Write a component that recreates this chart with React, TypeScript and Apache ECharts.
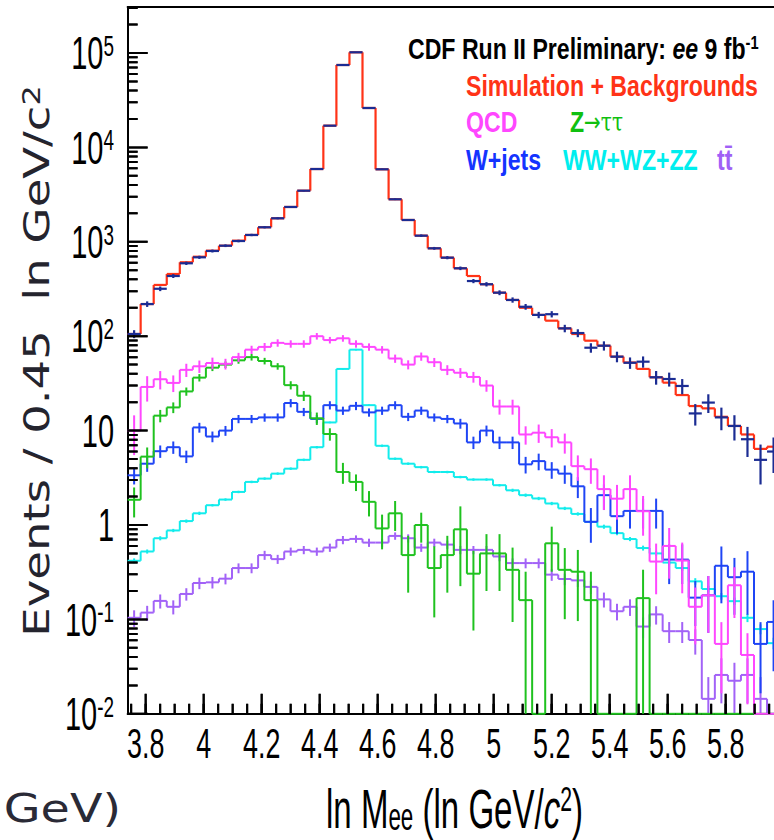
import React, { useEffect, useRef } from "react";
import * as echarts from "echarts";

// ---- binning / ranges ----
const X_MIN = 3.7377; // ln(42)
const BIN_WIDTH = 0.045;
const N_BINS = 50;
const X_MAX = X_MIN + BIN_WIDTH * N_BINS;
const Y_MIN = 0.01;
const Y_MAX = 3.07e5;

// ---- series values (per bin) ----
const dataEvents = [105.5, 219, 318, 434, 592, 685, 799, 909, 1019, 1181, 1425, 1774, 2338, 3477, 5900, 16980, 74600, 101700, 26140, 5861, 2820, 1702, 1161, 853, 679, 524, 384, 355, 289, 242, 205, 168, 171, 121, 108, 75.5, 79.3, 60.7, 52.3, 53.7, 36.7, 35.2, 29.7, 15.2, 19.8, 13.8, 11.2, 8.1, 4.9, 6];
const simPlusBackgrounds = [105.5, 219, 349, 456, 607, 695, 805, 909, 1028, 1181, 1425, 1774, 2338, 3477, 5900, 16980, 74600, 101700, 26140, 5861, 2820, 1702, 1161, 853, 679, 524, 434, 355, 289, 242, 200, 168, 146, 121, 105.5, 89.6, 79.3, 60.7, 52.6, 45, 36.7, 32.2, 23.8, 18.2, 17.2, 14.0, 11.2, 9.1, 6.4, 6.75];
const qcd = [10, 29, 35, 32, 44, 48, 52, 51, 60, 72, 77, 85, 83, 83, 100, 91, 95, 83, 77, 72, 58, 50, 61, 53, 44, 41, 37, 30, 18, 18, 9.1, 9.5, 8.5, 7.5, 4.2, 3.9, 2.4, 1.9, 2.4, 1.4, 0.41, 0.6, 0.42, 0.136, 0.18, 0.055, 0.23, 0.042, 0, 0];
const qcdRelErr = [0.45, 0.3, 0.22, 0.2, 0.16, 0.15, 0.14, 0.13, 0.11, 0.1, 0.1, 0.09, 0.09, 0.09, 0.08, 0.08, 0.08, 0.09, 0.09, 0.09, 0.1, 0.11, 0.1, 0.11, 0.12, 0.12, 0.13, 0.14, 0.18, 0.18, 0.22, 0.22, 0.22, 0.24, 0.3, 0.3, 0.4, 0.4, 0.4, 0.45, 0.55, 0.55, 0.55, 0.6, 0.6, 0.7, 0.55, 0.7, 0, 0];
const zTauTau = [1.85, 5.3, 14.4, 17.6, 26, 36.4, 46.4, 50, 55.5, 60, 54.6, 48, 30.3, 23.4, 13.5, 9.2, 3.64, 2.86, 1.76, 0.92, 1.33, 0.48, 1.0, 0.35, 0.48, 0.9, 0.305, 0.5, 0.5, 0.335, 0.16, 0, 0.64, 0.335, 0.32, 0.16, 0, 0, 0, 0.168, 0, 0, 0, 0, 0, 0, 0, 0, 0, 0];
const zTauTauRelErr = [0.35, 0.25, 0.15, 0.13, 0.1, 0.09, 0.08, 0.08, 0.08, 0.08, 0.08, 0.08, 0.1, 0.12, 0.15, 0.15, 0.25, 0.2, 0.3, 0.4, 0.35, 0.6, 0.35, 0.7, 0.6, 0.75, 0.75, 0.6, 0.6, 0.72, 1.0, 0, 0.5, 0.7, 0.7, 1.0, 0, 0, 0, 1.0, 0, 0, 0, 0, 0, 0, 0, 0, 0, 0];
const wJets = [3.36, 4.46, 6.05, 6.67, 5.33, 10.8, 8.65, 10, 13.3, 13.3, 13.8, 13.8, 19.6, 15.8, 13.3, 18.6, 16.3, 18.3, 15.6, 16.3, 18.6, 14.0, 16.3, 13.8, 13.3, 11.9, 7.5, 10, 7.5, 7.5, 4.39, 4.75, 3.86, 3.5, 2.57, 1.08, 2.07, 1.24, 1.41, 1.41, 1.41, 0.43, 0.43, 0.17, 0.18, 0.37, 0.28, 0.32, 0.055, 0.094];
const wJetsRelErr = [0.2, 0.18, 0.15, 0.15, 0.15, 0.12, 0.13, 0.12, 0.1, 0.1, 0.1, 0.1, 0.1, 0.1, 0.1, 0.1, 0.1, 0.1, 0.1, 0.1, 0.1, 0.1, 0.1, 0.1, 0.1, 0.12, 0.15, 0.13, 0.15, 0.15, 0.2, 0.2, 0.2, 0.22, 0.25, 0.4, 0.3, 0.35, 0.35, 0.35, 0.35, 0.45, 0.45, 0.5, 0.6, 0.6, 0.6, 0.65, 0.7, 0.7];
const diboson = [0.418, 0.524, 0.724, 0.875, 1.10, 1.33, 1.62, 1.86, 2.24, 2.86, 3.1, 3.5, 3.95, 4.9, 6.67, 12.2, 45, 72, 18.6, 6.9, 5.03, 4.46, 4.1, 3.64, 3.64, 3.22, 3.03, 3.03, 2.64, 2.33, 2.07, 1.91, 1.69, 1.5, 1.31, 1.08, 0.96, 0.82, 0.71, 0.57, 0.50, 0.40, 0.35, 0.253, 0.21, 0.176, 0.156, 0.104, 0.079, 0.056];
const dibosonRelErr = [0.06, 0.05, 0.05, 0.04, 0.04, 0.04, 0.03, 0.03, 0.03, 0.03, 0.03, 0.03, 0.03, 0.03, 0.03, 0.02, 0.02, 0.02, 0.02, 0.03, 0.03, 0.03, 0.03, 0.03, 0.03, 0.03, 0.03, 0.03, 0.03, 0.04, 0.04, 0.04, 0.04, 0.04, 0.04, 0.05, 0.05, 0.05, 0.05, 0.06, 0.06, 0.06, 0.07, 0.08, 0.08, 0.08, 0.09, 0.1, 0.12, 0.14];
const ttbar = [0.104, 0.118, 0.157, 0.136, 0.186, 0.243, 0.247, 0.27, 0.35, 0.35, 0.48, 0.435, 0.524, 0.545, 0.524, 0.577, 0.695, 0.712, 0.651, 0.651, 0.766, 0.724, 0.577, 0.651, 0.62, 0.545, 0.545, 0.545, 0.464, 0.395, 0.395, 0.395, 0.298, 0.268, 0.259, 0.221, 0.163, 0.122, 0.136, 0.084, 0.113, 0.075, 0.075, 0.0605, 0.0144, 0.0258, 0.0224, 0.0258, 0.0144, 0];
const ttbarRelErr = [0.2, 0.18, 0.17, 0.17, 0.15, 0.14, 0.14, 0.13, 0.12, 0.12, 0.11, 0.11, 0.1, 0.1, 0.1, 0.1, 0.1, 0.09, 0.1, 0.1, 0.09, 0.1, 0.1, 0.1, 0.1, 0.1, 0.1, 0.1, 0.11, 0.12, 0.12, 0.12, 0.14, 0.14, 0.15, 0.16, 0.18, 0.2, 0.2, 0.25, 0.22, 0.25, 0.25, 0.3, 0.7, 0.5, 0.55, 0.5, 0.7, 0];

// ---- ticks ----
const xTickValues = [3.8, 4.0, 4.2, 4.4, 4.6, 4.8, 5.0, 5.2, 5.4, 5.6, 5.8];
const xTickLabels = ["3.8", "4", "4.2", "4.4", "4.6", "4.8", "5", "5.2", "5.4", "5.6", "5.8"];
const yTickValues = [0.01, 0.1, 1, 10, 100, 1000, 10000, 100000];
const yTickBases = ["10", "10", "1", "10", "10", "10", "10", "10"];
const yTickExps = ["-2", "-1", "", "", "2", "3", "4", "5"];

const xMinorTicks: number[] = [];
for (let k = 75; k <= 119; k++) xMinorTicks.push(+(k * 0.05).toFixed(2));
const yMinorTicks: number[] = [];
for (let d = -2; d <= 5; d++) {
  for (let m = 2; m <= 9; m++) {
    const v = +(m * Math.pow(10, d)).toPrecision(3);
    if (v < Y_MAX) yMinorTicks.push(v);
  }
}

const COLORS = {
  data: "#1b2c93",
  sum: "#ff3317",
  qcd: "#ff47ff",
  ztt: "#1fc21f",
  wjets: "#1f45f5",
  dib: "#12ecec",
  tt: "#a262f7",
};

function histSeries(
  name: string,
  values: number[],
  errs: number[] | null,
  color: string,
  connect: boolean,
  width = 2
) {
  const items = values.map((v, i) => [
    X_MIN + i * BIN_WIDTH,
    X_MIN + (i + 1) * BIN_WIDTH,
    v,
    errs ? errs[i] : 0,
    i < values.length - 1 ? values[i + 1] : -1,
  ]);
  return {
    type: "custom",
    name,
    xAxisIndex: 0,
    yAxisIndex: 0,
    clip: false,
    data: items,
    encode: { x: [0, 1], y: 2 },
    renderItem: (params: any, api: any) => {
      const x0 = api.value(0);
      const x1 = api.value(1);
      const v = api.value(2);
      const e = api.value(3);
      const vn = api.value(4);
      const cl = (y: number) => Math.min(Math.max(y, Y_MIN), Y_MAX);
      const p0 = api.coord([x0, cl(v)]);
      const p1 = api.coord([x1, cl(v)]);
      const style = { stroke: color, lineWidth: width, fill: null };
      const children: any[] = [
        { type: "line", shape: { x1: p0[0], y1: p0[1], x2: p1[0], y2: p1[1] }, style },
      ];
      if (connect && vn >= 0) {
        const pn = api.coord([x1, cl(vn)]);
        children.push({ type: "line", shape: { x1: p1[0], y1: p1[1], x2: p1[0], y2: pn[1] }, style });
      }
      if (e > 0 && v > 0) {
        const xc = (x0 + x1) / 2;
        const t = api.coord([xc, cl(v + e)]);
        const b = api.coord([xc, cl(v - e)]);
        children.push({ type: "line", shape: { x1: t[0], y1: t[1], x2: b[0], y2: b[1] }, style });
      }
      return { type: "group", children };
    },
  };
}

// inside ticks, placed through the axes' scales: [x, y, direction (0 = y-axis tick, 1 = x-axis tick), length]
function tickItems() {
  const items: number[][] = [];
  yTickValues.forEach((v) => items.push([X_MIN, v, 0, 20]));
  yMinorTicks.forEach((v) => items.push([X_MIN, v, 0, 10]));
  xTickValues.forEach((v) => items.push([v, Y_MIN, 1, 20]));
  xMinorTicks.forEach((v) => items.push([v, Y_MIN, 1, 10]));
  return items;
}
function tickSeries() {
  return {
    type: "custom",
    name: "ticks",
    clip: false,
    z: 10,
    data: tickItems(),
    encode: { x: 0, y: 1 },
    renderItem: (params: any, api: any) => {
      const p = api.coord([api.value(0), api.value(1)]);
      const dir = api.value(2);
      const len = api.value(3);
      const t = 2;
      const shape =
        dir === 0
          ? { x: p[0], y: p[1] - t / 2, width: len, height: t }
          : { x: p[0] - t / 2, y: p[1] - len, width: t, height: len };
      return { type: "rect", shape, style: { fill: "#000" } };
    },
  };
}

const HELV = "'Liberation Sans', Arial, Helvetica, sans-serif";
const GOTH = "'DejaVu Sans', sans-serif";

export default function App() {
  const ref = useRef<HTMLDivElement>(null);
  useEffect(() => {
    if (!ref.current) return;
    const chart = echarts.init(ref.current, null, { renderer: "svg" });
    const option: any = {
      animation: false,
      backgroundColor: "#ffffff",
      grid: { left: 127.6, right: 19.9, top: 7, bottom: 126.2 },
      xAxis: [
        {
          type: "value",
          min: X_MIN,
          max: X_MAX,
          position: "bottom",
          axisLine: { show: true, onZero: false, lineStyle: { color: "#000", width: 2 } },
          axisTick: { show: false },
          axisLabel: { show: false },
          splitLine: { show: false },
        },
        {
          type: "value",
          min: X_MIN,
          max: X_MAX,
          position: "top",
          axisLine: { show: true, onZero: false, lineStyle: { color: "#000", width: 2 } },
          axisTick: { show: false },
          axisLabel: { show: false },
          splitLine: { show: false },
        },
      ],
      yAxis: {
        type: "log",
        logBase: 10,
        min: Y_MIN,
        max: Y_MAX,
        position: "left",
        axisLine: { show: true, onZero: false, lineStyle: { color: "#000", width: 2 } },
        axisTick: { show: false },
        axisLabel: { show: false },
        splitLine: { show: false },
      },
      series: [
        histSeries("tt", ttbar, ttbar.map((v, i) => v * ttbarRelErr[i]), COLORS.tt, true),
        histSeries("WW+WZ+ZZ", diboson, diboson.map((v, i) => v * dibosonRelErr[i]), COLORS.dib, true),
        histSeries("W+jets", wJets, wJets.map((v, i) => v * wJetsRelErr[i]), COLORS.wjets, true),
        histSeries("Z→ττ", zTauTau, zTauTau.map((v, i) => v * zTauTauRelErr[i]), COLORS.ztt, true),
        histSeries("QCD", qcd, qcd.map((v, i) => v * qcdRelErr[i]), COLORS.qcd, true),
        histSeries("Simulation + Backgrounds", simPlusBackgrounds, null, COLORS.sum, true, 2.2),
        histSeries("Data", dataEvents, dataEvents.map((v) => Math.sqrt(v)), COLORS.data, false, 2.2),
        tickSeries(),
      ],
    };
    chart.setOption(option);

    const gx = (v: number) => chart.convertToPixel({ xAxisIndex: 0 } as any, v) as number;
    const gy = (v: number) => chart.convertToPixel({ yAxisIndex: 0 } as any, v) as number;

    const graphics: any[] = [];
    // same ticks as filled bars in the graphic layer (positions from the axes' scales)
    tickItems().forEach(([x, y, dir, len]) => {
      const px = gx(x);
      const py = gy(y);
      const t = 2;
      const shape =
        dir === 0
          ? { x: px, y: py - t / 2, width: len, height: t }
          : { x: px - t / 2, y: py - len, width: t, height: len };
      graphics.push({ type: "rect", shape, style: { fill: "#000" }, z: 100 });
    });
    // y tick labels
    yTickValues.forEach((v, i) => {
      const base = yTickBases[i];
      const exp = yTickExps[i];
      const text = exp ? `{b|${base}}{e|${exp}}` : `{p|${base}}`;
      graphics.push({
        type: "text",
        x: 114,
        y: gy(v),
        scaleX: 0.63,
        silent: true,
        style: {
          text,
          align: "right",
          verticalAlign: "middle",
          fontFamily: HELV,
          fontSize: 46,
          fill: "#000",
          rich: {
            b: { fontSize: 46, fontFamily: HELV, lineHeight: 46, padding: [8, 0, 0, 0], verticalAlign: "bottom", fill: "#000" },
            e: { fontSize: 30, fontFamily: HELV, lineHeight: 40, verticalAlign: "top", fill: "#000" },
            p: { fontSize: 46, fontFamily: HELV, lineHeight: 46, fill: "#000" },
          },
        },
      });
    });
    // x tick labels
    xTickValues.forEach((v, i) => {
      graphics.push({
        type: "text",
        x: gx(v),
        y: 743,
        scaleX: 0.64,
        silent: true,
        style: {
          text: xTickLabels[i],
          align: "center",
          verticalAlign: "middle",
          fontFamily: HELV,
          fontSize: 42,
          fill: "#000",
        },
      });
    });
    // x axis title
    graphics.push({
      type: "text",
      x: 326,
      y: 780,
      scaleX: 0.59,
      silent: true,
      style: {
        text: "{t|ln M}{s|ee}{t| (ln GeV/}{i|c}{p|2}{t|)}",
        align: "left",
        verticalAlign: "top",
        fontFamily: HELV,
        fontSize: 56,
        fill: "#000",
        rich: {
          t: { fontSize: 56, fontFamily: HELV, lineHeight: 56, verticalAlign: "middle", fill: "#000" },
          i: { fontSize: 56, fontFamily: HELV, fontStyle: "italic", lineHeight: 56, verticalAlign: "middle", fill: "#000" },
          s: { fontSize: 38, fontFamily: HELV, lineHeight: 20, verticalAlign: "bottom", fill: "#000" },
          p: { fontSize: 36, fontFamily: HELV, lineHeight: 30, verticalAlign: "top", fill: "#000" },
        },
      },
    });
    // y axis title
    graphics.push({
      type: "text",
      x: 37,
      y: 361,
      rotation: Math.PI / 2,
      scaleX: 1.33,
      silent: true,
      style: {
        text: "{a|Events / 0.45  ln GeV/c}{s|2}",
        align: "center",
        verticalAlign: "middle",
        fontFamily: GOTH,
        fontSize: 35,
        fill: "#24242e",
        rich: {
          a: { fontSize: 35, fontFamily: GOTH, lineHeight: 35, verticalAlign: "bottom", fill: "#24242e" },
          s: { fontSize: 24, fontFamily: GOTH, lineHeight: 30, verticalAlign: "top", fill: "#24242e" },
        },
      },
    });
    // neighbouring panel axis title fragment
    graphics.push({
      type: "text",
      x: 121,
      y: 809,
      scaleX: 1.22,
      silent: true,
      style: {
        text: "GeV)",
        align: "right",
        verticalAlign: "middle",
        fontFamily: GOTH,
        fontSize: 39,
        fill: "#2a2a36",
      },
    });
    // legend texts
    const LB = { fontFamily: HELV, fontWeight: "bold", fontSize: 30 };
    const legend = (x: number, y: number, text: string, fill: string, rich?: any) => ({
      type: "text",
      x,
      y,
      scaleX: 0.77,
      silent: true,
      style: { text, align: "left", verticalAlign: "middle", ...LB, fill, rich },
    });
    graphics.push(
      legend(408, 48.5, "{n|CDF Run II Preliminary: }{i|ee}{n| 9 fb}{s|-1}", "#000", {
        n: { ...LB, lineHeight: 30, verticalAlign: "bottom", fill: "#000" },
        i: { ...LB, fontStyle: "italic", lineHeight: 30, verticalAlign: "bottom", fill: "#000" },
        s: { fontFamily: HELV, fontWeight: "bold", fontSize: 19, lineHeight: 18, verticalAlign: "top", fill: "#000" },
      })
    );
    graphics.push(legend(466, 85.5, "Simulation + Backgrounds", COLORS.sum));
    graphics.push(legend(466, 121.5, "QCD", COLORS.qcd));
    graphics.push(
      legend(570, 121.5, "{z|Z}{a|→}{t|ττ}", "#10c010", {
        z: { ...LB, lineHeight: 30, fill: "#10c010" },
        a: { fontFamily: "'DejaVu Sans', sans-serif", fontSize: 26, lineHeight: 30, fill: "#10c010" },
        t: { fontFamily: "'DejaVu Serif', serif", fontSize: 26, lineHeight: 30, fill: "#10c010" },
      })
    );
    graphics.push(legend(466, 159.5, "W+jets", "#1434ff"));
    graphics.push(legend(563, 159.5, "WW+WZ+ZZ", "#00eeee"));
    graphics.push(legend(717, 159.5, "tt\u0304", "#a060f6"));

    chart.setOption({ graphic: graphics });
    return () => chart.dispose();
  }, []);
  return (
    <div
      style={{
        position: "fixed",
        left: 0,
        top: 0,
        width: 774,
        height: 840,
        overflow: "hidden",
        background: "#fff",
      }}
    >
      <div ref={ref} style={{ width: 800, height: 840 }} />
    </div>
  );
}
